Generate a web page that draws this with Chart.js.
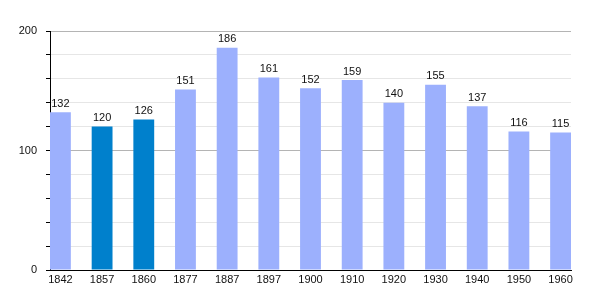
<!DOCTYPE html>
<html lang="fr">
<head>
<meta charset="UTF-8">
<title>Population</title>
<script src="https://cdn.jsdelivr.net/npm/chart.js"></script>
<style>
    html, body { margin: 0; padding: 0; background: #fff; }
    #wrap { width: 600px; height: 300px; }
</style>
</head>
<body>
<div id="wrap"><canvas id="chart"></canvas></div>
<script>
const years = ['1842', '1857', '1860', '1877', '1887', '1897', '1900', '1910', '1920', '1930', '1940', '1950', '1960'];
const population = [132, 120, 126, 151, 186, 161, 152, 159, 140, 155, 137, 116, 115];
const highlighted = ['1857', '1860'];
const yTicks = [0, 100, 200];

const LIGHT = '#9cb0fd';
const DARK = '#0080cc';
const FONT = { family: '"Liberation Sans", Arial, sans-serif', size: 11 };

// bars sit left-aligned in their slot, so a linear x scale with slot offset 0.25
const points = population.map((v, i) => ({ x: i + 0.25, y: v }));

const valueLabels = {
    id: 'valueLabels',
    afterDatasetsDraw(chart) {
        const ctx = chart.ctx;
        const meta = chart.getDatasetMeta(0);
        ctx.save();
        ctx.font = `${FONT.size}px ${FONT.family}`;
        ctx.fillStyle = '#111';
        ctx.textAlign = 'center';
        ctx.textBaseline = 'bottom';
        meta.data.forEach((bar, i) => {
            ctx.fillText(population[i], bar.x, bar.y - 3);
        });
        ctx.restore();
    }
};

new Chart(document.getElementById('chart'), {
    type: 'bar',
    data: {
        datasets: [{
            data: points,
            backgroundColor: years.map(y => highlighted.includes(y) ? DARK : LIGHT),
            borderWidth: 0,
            barPercentage: 0.5,
            categoryPercentage: 1
        }]
    },
    options: {
        responsive: true,
        maintainAspectRatio: false,
        animation: false,
        layout: { padding: { top: 31, right: 29, left: 0, bottom: 0 } },
        plugins: { legend: { display: false }, tooltip: { enabled: false } },
        scales: {
            x: {
                type: 'linear',
                offset: false,
                min: 0,
                max: years.length - 0.5,
                afterBuildTicks: axis => { axis.ticks = years.map((_, i) => ({ value: i + 0.25 })); },
                afterFit: axis => { axis.height = 30; },
                grid: { display: false, drawTicks: false },
                border: { display: true, color: '#000', width: 1 },
                ticks: {
                    autoSkip: false,
                    maxRotation: 0,
                    padding: 3,
                    color: '#111',
                    font: FONT,
                    callback: (v, i) => years[i]
                }
            },
            y: {
                min: yTicks[0],
                max: yTicks[yTicks.length - 1],
                afterFit: axis => { axis.width = 50; },
                border: { display: true, color: '#000', width: 1 },
                grid: {
                    color: c => c.tick && c.tick.value % 100 === 0 ? '#b4b4b4' : '#e6e6e6',
                    tickColor: '#000',
                    tickLength: 4
                },
                ticks: {
                    stepSize: 20,
                    padding: 9,
                    color: '#111',
                    font: FONT,
                    callback: v => yTicks.includes(v) ? v : ''
                }
            }
        }
    },
    plugins: [valueLabels]
});
</script>
</body>
</html>
